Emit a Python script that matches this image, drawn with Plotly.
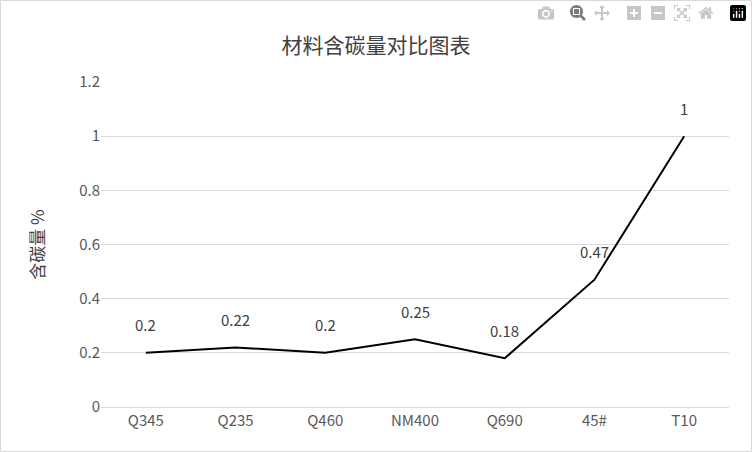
import plotly.graph_objects as go

materials = ["Q345", "Q235", "Q460", "NM400", "Q690", "45#", "T10"]
carbon = [0.2, 0.22, 0.2, 0.25, 0.18, 0.47, 1]
labels = ["0.2", "0.22", "0.2", "0.25", "0.18", "0.47", "1"]

font = "Noto Sans CJK SC"

fig = go.Figure(go.Scatter(
    x=materials, y=carbon,
    mode="lines",
    line=dict(color="black", width=2),
))

for m, v, t in zip(materials, carbon, labels):
    fig.add_annotation(x=m, y=v, text=t, showarrow=False, yshift=28,
                       font=dict(size=15, color="#404040", family=font))

fig.update_layout(
    width=752, height=452,
    margin=dict(l=101, r=23, t=82, b=45),
    paper_bgcolor="white", plot_bgcolor="white",
    showlegend=False,
    title=dict(text="材料含碳量对比图表", x=0.5, y=0.915, xanchor="center",
               font=dict(size=21, color="#404040", family=font)),
    xaxis=dict(showgrid=False, showline=True, linecolor="#d9d9d9",
               tickfont=dict(size=15, color="#595959", family=font),
               ticks="", range=[-0.5, 6.5]),
    yaxis=dict(range=[0, 1.2], dtick=0.2, gridcolor="#d9d9d9",
               zeroline=False, tickformat="~g",
               tickfont=dict(size=15, color="#595959", family=font),
               title=dict(text="含碳量 %", standoff=30,
                          font=dict(size=17, color="#404040", family=font))),
    shapes=[dict(type="rect", xref="paper", yref="paper",
                 x0=-100.5/628, x1=1+22.5/628, y0=-44.5/325, y1=1+81.5/325,
                 line=dict(color="#d9d9d9", width=1))],
)

fig.write_html("out.html", post_script="document.body.style.margin='0';")
